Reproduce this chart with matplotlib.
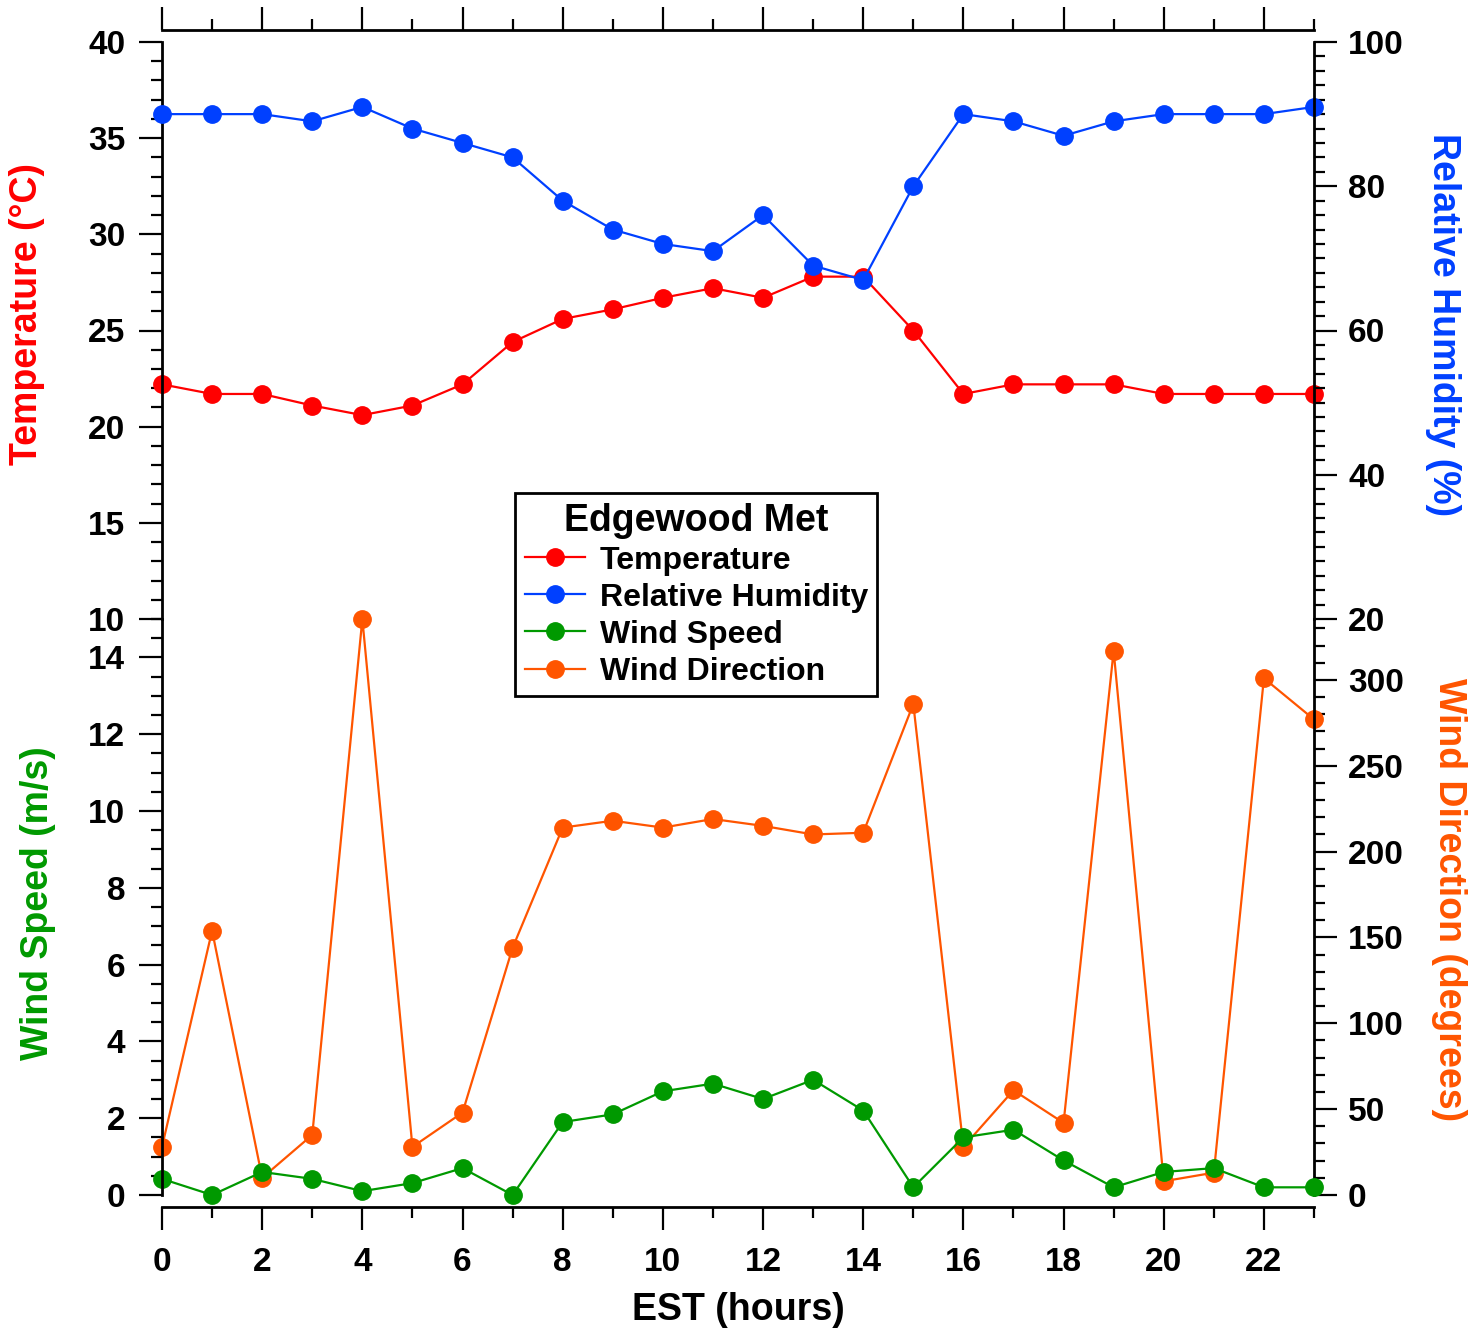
import numpy as np
import matplotlib
matplotlib.use('Agg')
import matplotlib.pyplot as plt
from matplotlib.ticker import MultipleLocator

plt.rcParams['font.family'] = ['Liberation Sans', 'DejaVu Sans']
plt.rcParams['font.weight'] = 'bold'

hours = np.arange(24)
temperature = [22.2, 21.7, 21.7, 21.1, 20.6, 21.1, 22.2, 24.4, 25.6, 26.1, 26.7, 27.2,
               26.7, 27.8, 27.8, 25.0, 21.7, 22.2, 22.2, 22.2, 21.7, 21.7, 21.7, 21.7]
humidity = [90, 90, 90, 89, 91, 88, 86, 84, 78, 74, 72, 71,
            76, 69, 67, 80, 90, 89, 87, 89, 90, 90, 90, 91]
wind_speed = [0.42, 0.0, 0.6, 0.42, 0.1, 0.31, 0.7, 0.0, 1.9, 2.1, 2.7, 2.9,
              2.5, 3.0, 2.2, 0.2, 1.5, 1.7, 0.9, 0.2, 0.6, 0.7, 0.2, 0.2]
wind_dir = [28, 154, 10, 35, 335.5, 28, 48, 144, 214, 218, 214, 219,
            215, 210, 211, 286, 28, 61, 42, 317, 8, 13, 301, 277]

RED = '#FF0000'
BLUE = '#0040FF'
GREEN = '#009900'
ORANGE = '#FF5500'

W, H = 1478, 1331
fig = plt.figure(figsize=(W / 100, H / 100), dpi=100)

def fx(px):
    return px / W

def fy(py):
    return 1 - py / H

x0, x1 = 162, 1314
ytop, ymid, ybot = 42, 619, 1195
ax_t = fig.add_axes([fx(x0), fy(ymid), fx(x1 - x0), (ymid - ytop) / H])
ax_b = fig.add_axes([fx(x0), fy(ybot), fx(x1 - x0), (ybot - ymid) / H])
ax_rh = ax_t.twinx()
ax_wd = ax_b.twinx()

kw = dict(lw=1.6, marker='o', ms=12.5, clip_on=False)
l_t, = ax_t.plot(hours, temperature, color=RED, **kw)
l_rh, = ax_rh.plot(hours, humidity, color=BLUE, **kw)
l_wd, = ax_wd.plot(hours, wind_dir, color=ORANGE, **kw)
l_ws, = ax_b.plot(hours, wind_speed, color=GREEN, **kw)

# wind speed drawn above wind direction
ax_b.set_zorder(ax_wd.get_zorder() + 1)
ax_b.patch.set_visible(False)

for a in (ax_t, ax_b, ax_rh, ax_wd):
    a.set_xlim(0, 23)
    for s in a.spines.values():
        s.set_visible(False)
        s.set_linewidth(2)

ax_t.set_ylim(10, 40)
ax_rh.set_ylim(20, 100)
ax_b.set_ylim(0, 15)
ax_wd.set_ylim(0, 335.5)

ax_t.yaxis.set_major_locator(MultipleLocator(5))
ax_t.yaxis.set_minor_locator(MultipleLocator(1))
ax_rh.yaxis.set_major_locator(MultipleLocator(20))
ax_rh.yaxis.set_minor_locator(MultipleLocator(2))
ax_b.yaxis.set_major_locator(MultipleLocator(2))
ax_b.yaxis.set_minor_locator(MultipleLocator(0.5))
ax_wd.yaxis.set_major_locator(MultipleLocator(50))
ax_wd.yaxis.set_minor_locator(MultipleLocator(10))
for a in (ax_t, ax_b):
    a.xaxis.set_major_locator(MultipleLocator(2))
    a.xaxis.set_minor_locator(MultipleLocator(1))

off = 12 * 0.72
ax_t.spines['left'].set_visible(True)
ax_t.spines['top'].set_visible(True)
ax_t.spines['top'].set_position(('outward', off))
ax_t.xaxis.set_ticks_position('top')
ax_t.tick_params(axis='x', labeltop=False, labelbottom=False)
ax_b.spines['left'].set_visible(True)
ax_b.spines['bottom'].set_visible(True)
ax_b.spines['bottom'].set_position(('outward', off))
ax_b.xaxis.set_ticks_position('bottom')
ax_rh.spines['right'].set_visible(True)
ax_wd.spines['right'].set_visible(True)

tick_fs = 24
for a in (ax_t, ax_b, ax_rh, ax_wd):
    a.tick_params(which='major', direction='out', length=16.5, width=1.6,
                  labelsize=tick_fs, pad=8)
    a.tick_params(which='minor', direction='out', length=8, width=1.6)
ax_b.tick_params(axis='x', which='major', pad=12)
ax_t.tick_params(axis='y', which='major', pad=10)
ax_b.tick_params(axis='y', which='major', pad=10)

for a in (ax_t, ax_b, ax_rh, ax_wd):
    for lab in a.get_xticklabels() + a.get_yticklabels():
        lab.set_fontweight('bold')

lab_fs = 27
fig.text(fx(27), fy(314), 'Temperature (°C)', color=RED, fontsize=lab_fs,
         fontweight='bold', rotation=90, ha='center', va='center')
fig.text(fx(38), fy(903), 'Wind Speed (m/s)', color=GREEN, fontsize=lab_fs,
         fontweight='bold', rotation=90, ha='center', va='center')
fig.text(fx(1443), fy(325), 'Relative Humidity (%)', color=BLUE, fontsize=lab_fs,
         fontweight='bold', rotation=270, ha='center', va='center')
fig.text(fx(1449), fy(900), 'Wind Direction (degrees)', color=ORANGE, fontsize=lab_fs,
         fontweight='bold', rotation=270, ha='center', va='center')
fig.text(fx(738), fy(1310), 'EST (hours)', color='black', fontsize=lab_fs,
         fontweight='bold', ha='center', va='center')

leg = fig.legend([l_t, l_rh, l_ws, l_wd],
                 ['Temperature', 'Relative Humidity', 'Wind Speed', 'Wind Direction'],
                 loc='upper left', bbox_to_anchor=(fx(515), fy(493)),
                 title='Edgewood Met', fontsize=23,
                 title_fontproperties={'size': 27, 'weight': 'bold'},
                 frameon=True, fancybox=False, framealpha=1, edgecolor='black',
                 handlelength=1.9, handletextpad=0.45, labelspacing=0.22,
                 borderpad=0.3, borderaxespad=0)
leg.get_frame().set_linewidth(2)
for t in leg.get_texts():
    t.set_fontweight('bold')

fig.savefig('out.png', dpi=100)
